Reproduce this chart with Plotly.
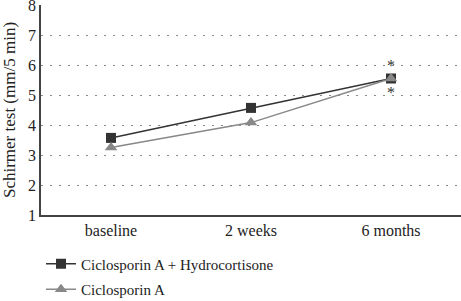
import plotly.graph_objects as go

categories = ["baseline", "2 weeks", "6 months"]
combo_values = [3.57, 4.57, 5.55]
csa_values = [3.25, 4.08, 5.55]
series_names = ["Ciclosporin A + Hydrocortisone", "Ciclosporin A"]
y_ticks = [1, 2, 3, 4, 5, 6, 7, 8]
star_positions = [6.0, 5.1]

FONT = "Liberation Serif"

fig = go.Figure()
fig.add_trace(go.Scatter(
    x=categories, y=combo_values, name=series_names[0], mode="lines+markers",
    line=dict(color="#333333", width=1.5),
    marker=dict(symbol="square", size=10, color="#333333"),
    legendgroup="a",
))
fig.add_trace(go.Scatter(
    x=categories, y=csa_values, name=series_names[1], mode="lines+markers",
    line=dict(color="#888888", width=1.5),
    marker=dict(symbol="triangle-up", size=11, color="#888888"),
    legendgroup="b",
))
for yv in star_positions:
    fig.add_annotation(x=categories[2], y=yv, text="*", showarrow=False,
                       font=dict(family=FONT, size=16, color="#333333"))

fig.update_layout(
    width=461, height=301,
    margin=dict(l=41, r=0, t=5, b=86, autoexpand=False),
    paper_bgcolor="white", plot_bgcolor="white",
    font=dict(family=FONT, size=16, color="#222222"),
    showlegend=True,
    legend=dict(x=0.0, y=-0.155, xanchor="left", yanchor="top",
                traceorder="grouped", tracegroupgap=3, itemwidth=30,
                font=dict(family=FONT, size=15, color="#222222")),
    xaxis=dict(range=[-0.5, 2.5], showgrid=False, showline=True,
               linecolor="#444444", linewidth=1.5, ticks="",
               tickfont=dict(family=FONT, size=16)),
    yaxis=dict(range=[1, 8], tickvals=y_ticks, showgrid=True,
               gridcolor="#888888", griddash="2px,7px", gridwidth=1,
               showline=True, linecolor="#444444", linewidth=1.5,
               ticks="", zeroline=False, ticklabeloverflow="allow",
               title=dict(text="Schirmer test (mm/5 min)",
                          font=dict(family=FONT, size=17)),
               tickfont=dict(family=FONT, size=16)),
)
fig.write_html("out.html", config={"displayModeBar": False},
               post_script="document.body.style.margin='0';")
